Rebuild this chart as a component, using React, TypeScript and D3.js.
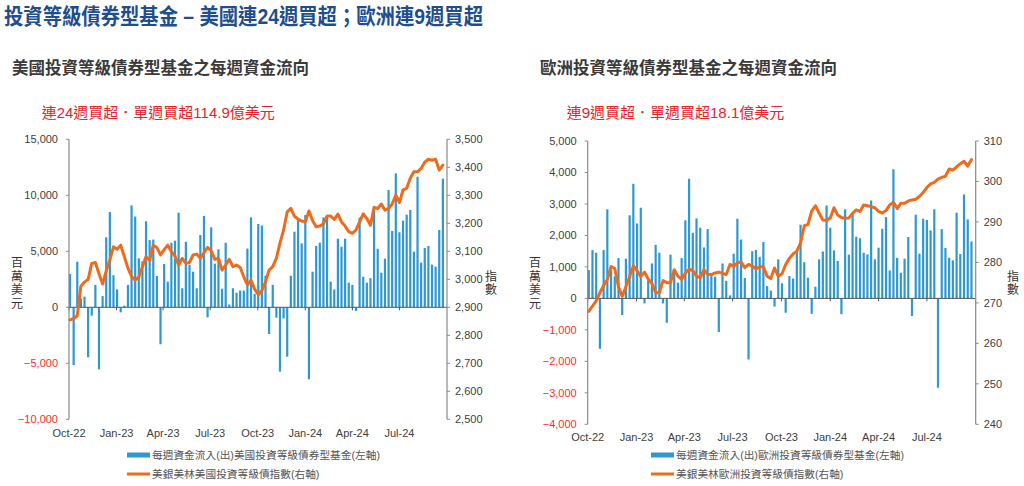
import React from "react";
import * as d3 from "d3";

const firstWeek = "2022-10-03";
const quarterLabels = ["Oct-22", "Jan-23", "Apr-23", "Jul-23", "Oct-23", "Jan-24", "Apr-24", "Jul-24"];
const quarterStarts = ["2022-10-01", "2023-01-01", "2023-04-01", "2023-07-01", "2023-10-01", "2024-01-01", "2024-04-01", "2024-07-01"];
const axisStart = "2022-10-01";
const axisEnd = "2024-10-01";

const usFlows = [
  2970, -5150, 4070, 800, 950, -4460, -750, 2000, -5540, 1000,
  6250, 8500, 2860, 1600, -450, 150, 2000, 9100, 8100, 4370,
  4100, 7680, 6000, 6050, 2800, -3300, 3870, 2290, 5770, 5950,
  8450, 1700, 5850, 3800, 3180, 1700, 6450, 8150, -900, 7140,
  3900, 5180, 1660, 5760, 250, 1700, 1300, 1500, 1500, 5240,
  8030, 1200, 7440, 7300, 2820, -2380, 2000, -930, -5750, -1000,
  -4410, 2820, 6750, 7800, 5710, 8240, -6430, 3180, 5470, 5770,
  8030, 8030, 2290, 1600, 6130, 5410, 6130, 2200, 2000, -330,
  8000, 2730, 2200, 2600, 8690, 5230, 3090, 4340, 10470, 6810,
  11960, 6700, 7740, 8270, 8690, 4970, 11660, 3990, 5300, 5470,
  3810, 3630, 6900, 11490,
];

const usIndex = [
  2855, 2860, 2870, 2975, 2990, 3000, 3057, 3060, 3020, 2983,
  3030, 3069, 3116, 3107, 3122, 3081, 3040, 3010, 2997, 3009,
  3045, 3081, 3067, 3122, 3113, 3087, 3106, 3122, 3099, 3083,
  3051, 3075, 3057, 3060, 3087, 3090, 3075, 3095, 3114, 3102,
  3071, 3075, 3033, 3051, 3071, 3045, 3051, 3042, 3009, 2980,
  2997, 2965, 2945, 2960, 2991, 3033, 3045, 3075, 3129, 3176,
  3241, 3253, 3225, 3215, 3208, 3205, 3244, 3210, 3188, 3190,
  3198, 3226, 3226, 3214, 3233, 3205, 3190, 3170, 3164, 3176,
  3205, 3234, 3217, 3193, 3257, 3253, 3269, 3247, 3253, 3269,
  3301, 3274, 3319, 3325, 3361, 3384, 3384, 3396, 3418, 3429,
  3425, 3429, 3390, 3408,
];

const euFlows = [
  900, 1535, 1450, -1600, 1535, 2830, 900, 700, 1280, -530,
  1260, 2640, 3640, 2380, 2880, -160, 600, 1110, 1700, 1450,
  -160, -775, 1390, 900, 500, 1280, 2480, 3800, 2085, 2540,
  2245, 1620, 2200, 800, 690, -1070, 1110, 560, 95, 1420,
  2530, 1870, 650, -1940, 1500, 1540, 1320, 1790, 390, 250,
  -260, 1240, 480, -455, 710, 630, 1470, 2340, 1150, 660,
  -490, 370, 1240, 1490, 2950, 2245, 1525, 1190, -500, 2830,
  1390, 2670, 1960, 1910, 1450, 1400, 3110, 1240, 1610, 2210,
  2580, 890, 4100, 1290, 815, 1260, 1950, -560, 2660, 1420,
  2530, 2490, 2160, 2830, -2840, 2200, 1600, 1290, 1210, 2720,
  1410, 3300, 2510, 1810,
];

const euIndex = [
  267.9, 269.2, 270.5, 272.5, 274.3, 275.8, 279.0, 278.5, 274.0, 271.6,
  274.0, 276.5, 279.2, 277.9, 276.5, 277.6, 275.9, 274.8, 272.5, 272.5,
  275.5, 275.0, 275.0, 278.2, 276.6, 275.8, 277.4, 278.3, 278.0, 276.6,
  276.2, 278.2, 277.0, 277.0, 277.4, 277.6, 277.3, 277.0, 279.5, 279.1,
  279.9, 280.1, 278.7, 279.5, 279.1, 278.4, 278.9, 278.9, 276.6, 276.0,
  278.6, 276.6, 277.2, 279.5, 281.0, 282.1, 282.8, 284.8, 289.0, 289.4,
  292.7, 294.0, 292.2, 290.5, 290.4, 291.0, 293.5, 291.7, 291.1, 290.9,
  291.0, 292.1, 293.0, 292.6, 294.2, 294.0, 293.8, 293.5, 292.6, 292.2,
  292.8, 294.2, 294.9, 293.3, 294.6, 294.6, 295.2, 295.4, 295.6, 296.3,
  297.3, 298.5, 299.4, 299.8, 300.6, 301.0, 301.3, 303.1, 302.8, 303.6,
  304.4, 305.0, 303.8, 305.4,
];

const usLeftTicks = [15000, 10000, 5000, 0, -5000, -10000];
const usRightTicks = [3500, 3400, 3300, 3200, 3100, 3000, 2900, 2800, 2700, 2600, 2500];
const euLeftTicks = [5000, 4000, 3000, 2000, 1000, 0, -1000, -2000, -3000, -4000];
const euRightTicks = [310, 300, 290, 280, 270, 260, 250, 240];

const BAR = "#2E98CF";
const LINE = "#EE6B1E";
const RED = "#FF2A2A";
const TEXT = "#404040";
const AXIS = "#8a8a8a";
const LAT = "'Liberation Sans', Arial, 'Noto Sans CJK TC', sans-serif";
const CJK = "'Liberation Sans', 'Noto Sans CJK TC', sans-serif";

const parse = d3.timeParse("%Y-%m-%d");
const weekDates = (n: number) => {
  const s = parse(firstWeek) as Date;
  return d3.range(n).map((i) => d3.timeDay.offset(s, i * 7));
};

type ChartProps = {
  flows: number[];
  index: number[];
  x0: number;
  x1: number;
  yTop: number;
  yBot: number;
  leftDomain: [number, number];
  rightDomain: [number, number];
  leftTicks: number[];
  rightTicks: number[];
  xLabelY: number;
  unitX: number;
  idxX: number;
  title: string;
  titleX: number;
  sub: string;
  subX: number;
  legendX: number;
  legend1: string;
  legend2: string;
};

function Chart(p: ChartProps) {
  const dates = weekDates(p.flows.length);
  const x = d3.scaleTime().domain([parse(axisStart) as Date, parse(axisEnd) as Date]).range([p.x0, p.x1]);
  const yL = d3.scaleLinear().domain(p.leftDomain).range([p.yBot, p.yTop]);
  const yR = d3.scaleLinear().domain(p.rightDomain).range([p.yBot, p.yTop]);
  const fmt = d3.format(",");
  const line = d3
    .line<number>()
    .x((_, i) => x(dates[i]))
    .y((d) => yR(d));
  const zeroY = yL(0);
  const bw = 2.2;
  return (
    <g>
      <text x={p.titleX} y={74} fontFamily={CJK} fontSize={16.5} fontWeight={700} fill="#3a3a3a">
        {p.title}
      </text>
      <text x={p.subX} y={117.5} fontFamily={CJK} fontSize={15} fill="#E3242B">
        {p.sub}
      </text>
      {p.flows.map((v, i) => (
        <rect
          key={i}
          x={x(dates[i]) - bw / 2}
          y={Math.min(yL(v), zeroY)}
          width={bw}
          height={Math.abs(yL(v) - zeroY)}
          fill={BAR}
        />
      ))}
      <line x1={p.x0} x2={p.x1} y1={zeroY} y2={zeroY} stroke="#555" strokeWidth={1} />
      {quarterStarts.map((q, i) => {
        const xx = x(parse(q) as Date);
        return <line key={"qt" + i} x1={xx} x2={xx} y1={zeroY} y2={zeroY + 3} stroke="#555" strokeWidth={1} />;
      })}
      <path d={line(p.index) || ""} fill="none" stroke={LINE} strokeWidth={3} strokeLinejoin="round" strokeLinecap="round" />
      <line x1={p.x0} x2={p.x0} y1={p.yTop} y2={p.yBot} stroke={AXIS} strokeWidth={1.2} />
      {p.leftTicks.map((t) => (
        <g key={"l" + t}>
          <line x1={p.x0 - 3} x2={p.x0} y1={yL(t)} y2={yL(t)} stroke={AXIS} strokeWidth={1} />
          <text x={p.x0 - 11} y={yL(t)} dy="0.35em" textAnchor="end" fontFamily={LAT} fontSize={11} fill={t < 0 ? RED : TEXT}>
            {fmt(t)}
          </text>
        </g>
      ))}
      <line x1={p.x1} x2={p.x1} y1={p.yTop} y2={p.yBot} stroke={AXIS} strokeWidth={1.2} />
      {p.rightTicks.map((t) => (
        <g key={"r" + t}>
          <line x1={p.x1} x2={p.x1 + 3} y1={yR(t)} y2={yR(t)} stroke={AXIS} strokeWidth={1} />
          <text x={p.x1 + 8} y={yR(t)} dy="0.35em" fontFamily={LAT} fontSize={11} fill={TEXT}>
            {fmt(t)}
          </text>
        </g>
      ))}
      {quarterStarts.map((q, i) => (
        <text key={"xl" + i} x={x(parse(q) as Date)} y={p.xLabelY} textAnchor="middle" fontFamily={LAT} fontSize={11} fill={TEXT}>
          {quarterLabels[i]}
        </text>
      ))}
      {["百", "萬", "美", "元"].map((c, i) => (
        <text key={"u" + i} x={p.unitX} y={263 + i * 13.5} dy="0.35em" textAnchor="middle" fontFamily={CJK} fontSize={12} fill="#333">
          {c}
        </text>
      ))}
      {["指", "數"].map((c, i) => (
        <text key={"ix" + i} x={p.idxX} y={276.5 + i * 13.5} dy="0.35em" textAnchor="middle" fontFamily={CJK} fontSize={12} fill="#333">
          {c}
        </text>
      ))}
      <rect x={p.legendX} y={452.5} width={23} height={5} fill={BAR} />
      <text x={p.legendX + 25} y={455} dy="0.35em" fontFamily={CJK} fontSize={10.7} fill="#555">
        {p.legend1}
      </text>
      <line x1={p.legendX} x2={p.legendX + 23} y1={474} y2={474} stroke={LINE} strokeWidth={3} />
      <text x={p.legendX + 25} y={474} dy="0.35em" fontFamily={CJK} fontSize={10.7} fill="#555">
        {p.legend2}
      </text>
    </g>
  );
}

export default function App() {
  return (
    <svg width={1024} height={486} style={{ position: "absolute", left: 0, top: 0, background: "#fff" }}>
      <rect width={1024} height={486} fill="#fff" />
      <text
        x={4}
        y={24}
        fontFamily={CJK}
        fontSize={21.5}
        fontWeight={700}
        fill="#1F4E8C"
        textLength={479}
        lengthAdjust="spacingAndGlyphs"
      >
        投資等級債券型基金 – 美國連24週買超；歐洲連9週買超
      </text>
      <Chart
        flows={usFlows}
        index={usIndex}
        x0={69}
        x1={447}
        yTop={139.3}
        yBot={419.3}
        leftDomain={[-10000, 15000]}
        rightDomain={[2500, 3500]}
        leftTicks={usLeftTicks}
        rightTicks={usRightTicks}
        xLabelY={436.5}
        unitX={17}
        idxX={491}
        title="美國投資等級債券型基金之每週資金流向"
        titleX={12}
        sub="連24週買超．單週買超114.9億美元"
        subX={41.7}
        legendX={127}
        legend1="每週資金流入(出)美國投資等級債券型基金(左軸)"
        legend2="美銀美林美國投資等級債指數(右軸)"
      />
      <Chart
        flows={euFlows}
        index={euIndex}
        x0={587.7}
        x1={975.7}
        yTop={141}
        yBot={424.3}
        leftDomain={[-4000, 5000]}
        rightDomain={[240, 310]}
        leftTicks={euLeftTicks}
        rightTicks={euRightTicks}
        xLabelY={440.5}
        unitX={535}
        idxX={1013}
        title="歐洲投資等級債券型基金之每週資金流向"
        titleX={540}
        sub="連9週買超．單週買超18.1億美元"
        subX={566.7}
        legendX={651}
        legend1="每週資金流入(出)歐洲投資等級債券型基金(左軸)"
        legend2="美銀美林歐洲投資等級債指數(右軸)"
      />
    </svg>
  );
}
